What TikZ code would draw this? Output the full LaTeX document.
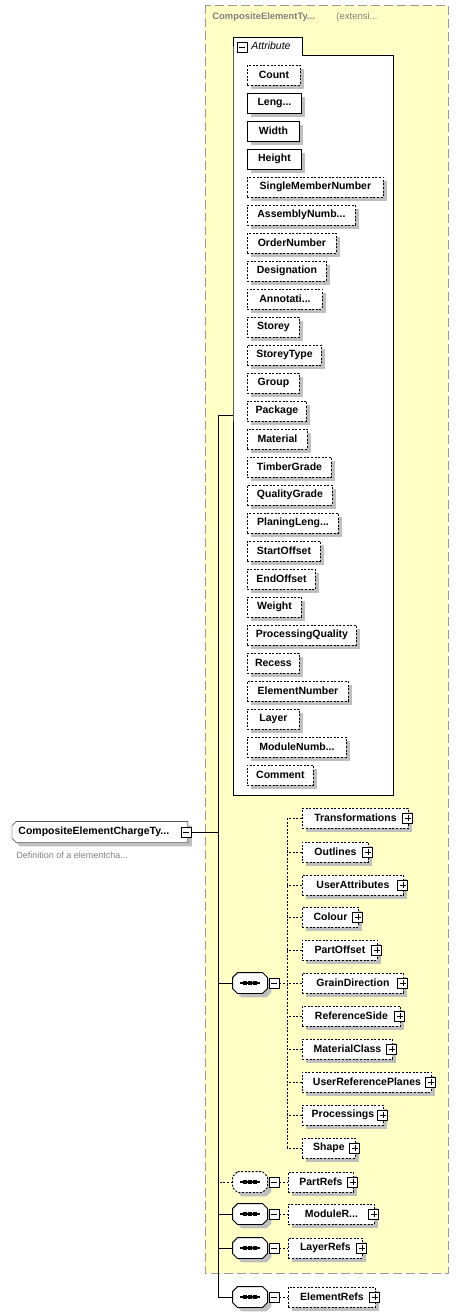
\documentclass[tikz,border=0pt]{standalone}
\usepackage{fontspec}
\setmainfont{Liberation Sans}
\usetikzlibrary{shadows,backgrounds}

\definecolor{extbg}{HTML}{FFFFC6}

\begin{document}
\begin{tikzpicture}[x=1pt, y=-1pt, line width=0.9pt,
  font=\fontsize{10.5}{12}\selectfont\bfseries]
\tikzset{
  shd/.style={drop shadow={shadow xshift=4pt, shadow yshift=-4pt, fill=black!25, opacity=1}},
  dsh/.style={dash pattern=on 2pt off 1.6pt},
  req/.style={draw, fill=white, shd, anchor=west, minimum height=20pt, inner sep=0pt},
  opt/.style={req, dsh},
  bx/.style={draw, fill=white, solid, minimum size=10pt, inner sep=0pt},
  pl/.style={bx, path picture={
      \draw[line width=0.8pt] ([xshift=2pt]path picture bounding box.west) -- ([xshift=-2pt]path picture bounding box.east);
      \draw[line width=0.8pt] ([yshift=-2pt]path picture bounding box.north) -- ([yshift=2pt]path picture bounding box.south);}},
  mi/.style={bx, path picture={
      \draw[line width=0.8pt] ([xshift=2pt]path picture bounding box.west) -- ([xshift=-2pt]path picture bounding box.east);}},
  seq/.style={minimum width=34pt, minimum height=20pt, inner sep=0pt},
  octp/.style={insert path={([xshift=5pt]#1.north west) -- ([xshift=-5pt]#1.north east) -- ([yshift=-5pt]#1.north east)
      -- ([yshift=5pt]#1.south east) -- ([xshift=-5pt]#1.south east) -- ([xshift=5pt]#1.south west)
      -- ([yshift=5pt]#1.south west) -- ([yshift=-5pt]#1.north west) -- cycle}},
  rootp/.style={insert path={([xshift=4pt]#1.north west) -- (#1.north east) -- (#1.south east) -- ([xshift=4pt]#1.south west)
      -- ([yshift=4pt]#1.south west) -- ([yshift=-4pt]#1.north west) -- cycle}},
  seqd/.style={draw, fill=white, shd, path picture={
      \draw[solid, black, line width=1.3pt] ([xshift=-10pt]path picture bounding box.center) -- ([xshift=10pt]path picture bounding box.center);
      \fill[black] ([shift={(-7pt,-2pt)}]path picture bounding box.center) rectangle ++(4pt,4pt);
      \fill[black] ([shift={(-2pt,-2pt)}]path picture bounding box.center) rectangle ++(4pt,4pt);
      \fill[black] ([shift={(3pt,-2pt)}]path picture bounding box.center) rectangle ++(4pt,4pt);}},
  gry/.style={text=black!50}}
\useasboundingbox (0,0) rectangle (459,1316);

% ---------------- extension area ----------------
\draw[draw=black!40, fill=extbg, dash pattern=on 9pt off 4pt] (205,5) rectangle (448,1273);
\node[gry, anchor=west, inner sep=0pt, font=\fontsize{9.4}{11}\selectfont\bfseries] (ttl) at (212,17) {CompositeElementTy...};
\node[gry, anchor=west, inner sep=0pt, font=\fontsize{9.5}{11}\selectfont\mdseries] (ext) at (336,17) {(extensi...};

% ---------------- root element ----------------
\node[anchor=west, minimum height=20pt, text width=163pt, inner xsep=6pt, inner ysep=0pt]
  (root) at (12,832) {CompositeElementChargeTy...};
\begin{scope}[on background layer]
  \draw[fill=white, shd, rootp=root];
\end{scope}
\node[mi] (root-m) at (186,832) {};
\node[gry, anchor=west, inner sep=0pt, font=\fontsize{9}{10}\selectfont\mdseries] (root-d) at (16,855) {Definition of a elementcha...};

% ---------------- attribute group ----------------
\draw[fill=white] (233,55) -- (233,37) -- (302,37) -- (302,55) -- (393,55) -- (393,795) -- (233,795) -- cycle;
\node[mi] (att-m) at (242,47) {};
\node[anchor=west, inner sep=0pt, font=\fontsize{10.5}{12}\selectfont\itshape] (att-l) at (251,46) {Attribute};
\coordinate (att) at (233,415);

\node[opt, minimum width=53pt]  (a1)  at (247,75)  {Count};
\node[req, minimum width=54pt]  (a2)  at (247,103) {Leng...};
\node[req, minimum width=52pt]  (a3)  at (247,131) {Width};
\node[req, minimum width=54pt]  (a4)  at (247,159) {Height};
\node[opt, minimum width=136pt] (a5)  at (247,187) {SingleMemberNumber};
\node[opt, minimum width=108pt] (a6)  at (247,215) {AssemblyNumb...};
\node[opt, minimum width=89pt]  (a7)  at (247,243) {OrderNumber};
\node[opt, minimum width=79pt]  (a8)  at (247,271) {Designation};
\node[opt, minimum width=75pt]  (a9)  at (247,299) {Annotati...};
\node[opt, minimum width=52pt]  (a10) at (247,327) {Storey};
\node[opt, minimum width=74pt]  (a11) at (247,355) {StoreyType};
\node[opt, minimum width=52pt]  (a12) at (247,383) {Group};
\node[opt, minimum width=59pt]  (a13) at (247,411) {Package};
\node[opt, minimum width=60pt]  (a14) at (247,439) {Material};
\node[opt, minimum width=84pt]  (a15) at (247,467) {TimberGrade};
\node[opt, minimum width=85pt]  (a16) at (247,495) {QualityGrade};
\node[opt, minimum width=91pt]  (a17) at (247,523) {PlaningLeng...};
\node[opt, minimum width=73pt]  (a18) at (247,551) {StartOffset};
\node[opt, minimum width=68pt]  (a19) at (247,579) {EndOffset};
\node[opt, minimum width=54pt]  (a20) at (247,607) {Weight};
\node[opt, minimum width=109pt] (a21) at (247,635) {ProcessingQuality};
\node[opt, minimum width=52pt]  (a22) at (247,663) {Recess};
\node[opt, minimum width=101pt] (a23) at (247,691) {ElementNumber};
\node[opt, minimum width=52pt]  (a24) at (247,719) {Layer};
\node[opt, minimum width=99pt]  (a25) at (247,747) {ModuleNumb...};
\node[opt, minimum width=66pt]  (a26) at (247,775) {Comment};

% ---------------- main spine ----------------
\coordinate (sp) at (218,415);
\coordinate (sp-b) at (218,1297);
\draw (root-m.east) -- (root-m.east -| sp);
\draw (att) -- (sp) -- (sp-b);

% ---------------- sequence of optional children ----------------
\node[seq] (s1) at (250,983) {};
\draw[seqd, octp=s1];
\node[mi] (s1-m) at (274,983) {};
\draw (s1.west) -- (s1.west -| sp);
\coordinate (cs) at (287,818);
\coordinate (ce) at (287,1148);
\draw[dsh] (cs) -- (ce);
\draw[dsh] (s1-m.east) -- (s1-m.east -| cs);

\node[opt, minimum width=106pt] (c1)  at (302,818)  {Transformations};
\node[opt, minimum width=66pt]  (c2)  at (302,852)  {Outlines};
\node[opt, minimum width=101pt] (c3)  at (302,885)  {UserAttributes};
\node[opt, minimum width=56pt]  (c4)  at (302,917)  {Colour};
\node[opt, minimum width=75pt]  (c5)  at (302,950)  {PartOffset};
\node[opt, minimum width=101pt] (c6)  at (302,983)  {GrainDirection};
\node[opt, minimum width=98pt]  (c7)  at (302,1016) {ReferenceSide};
\node[opt, minimum width=90pt]  (c8)  at (302,1049) {MaterialClass};
\node[opt, minimum width=129pt] (c9)  at (302,1082) {UserReferencePlanes};
\node[opt, minimum width=81pt]  (c10) at (302,1115) {Processings};
\node[opt, minimum width=53pt]  (c11) at (302,1148) {Shape};
\foreach \c in {c1,c2,c3,c4,c5,c6,c7,c8,c9,c10,c11}{
  \node[pl] (\c-p) at ([xshift=-1pt]\c.east) {};
  \draw[dsh] (\c.west) -- (\c.west -| cs);
}

% ---------------- reference sequences ----------------
\node[seq] (s2) at (250,1182) {};
\node[seq] (s3) at (250,1214) {};
\node[seq] (s4) at (250,1248) {};
\node[seq] (s5) at (250,1297) {};
\draw[seqd, dsh, octp=s2];
\draw[seqd, octp=s3];
\draw[seqd, octp=s4];
\draw[seqd, octp=s5];
\node[mi] (s2-m) at (274,1182) {};
\node[mi] (s3-m) at (274,1214) {};
\node[mi] (s4-m) at (274,1248) {};
\node[mi] (s5-m) at (274,1297) {};

\node[opt, minimum width=65pt] (r1) at (288,1182) {PartRefs};
\node[opt, minimum width=86pt] (r2) at (288,1214) {ModuleR...};
\node[opt, minimum width=74pt] (r3) at (288,1248) {LayerRefs};
\node[opt, minimum width=87pt] (r4) at (288,1297) {ElementRefs};

\draw[dsh] (s2.west) -- (s2.west -| sp);
\draw (s3.west) -- (s3.west -| sp);
\draw (s4.west) -- (s4.west -| sp);
\draw (sp-b) -- (s5.west);
\foreach \i/\r in {2/r1,3/r2,4/r3,5/r4}{
  \node[pl] (\r-p) at ([xshift=-1pt]\r.east) {};
  \draw[dsh] (s\i-m.east) -- (\r.west);
}
\end{tikzpicture}
\end{document}
